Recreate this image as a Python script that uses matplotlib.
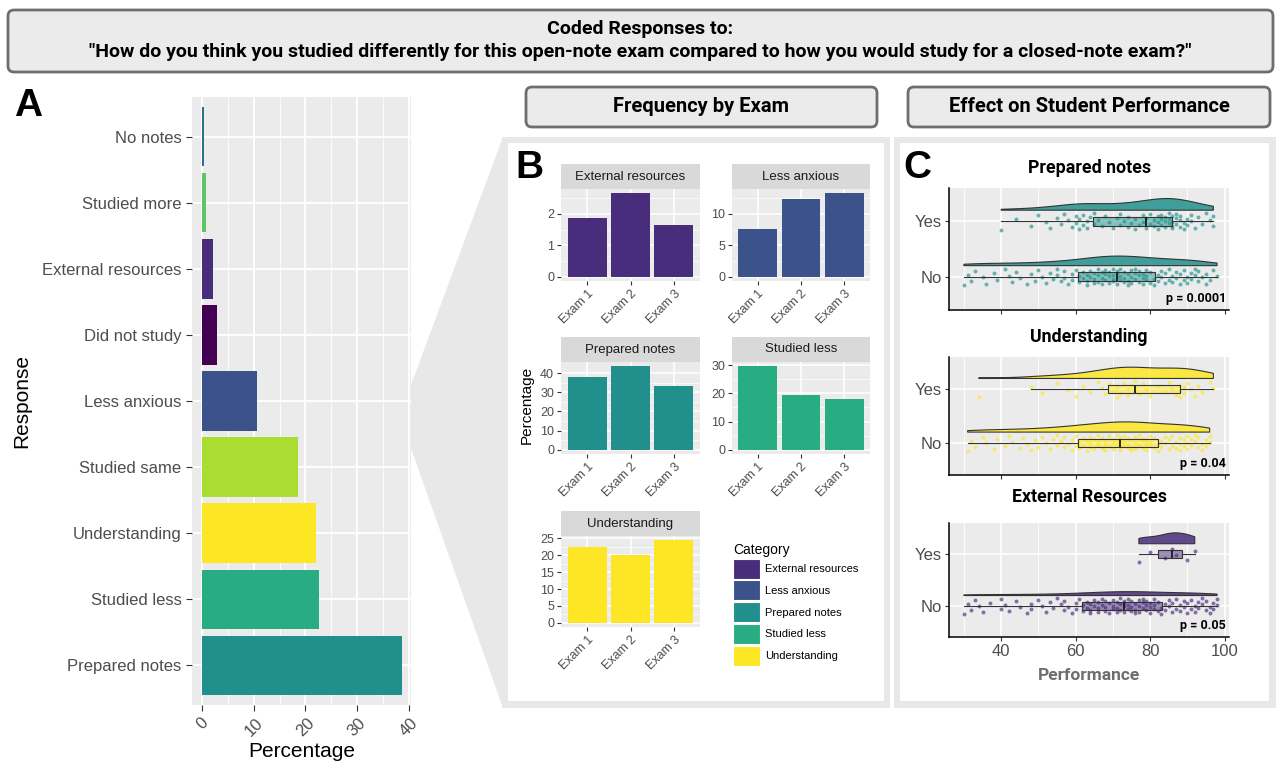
import matplotlib
matplotlib.use("Agg")
import matplotlib.pyplot as plt
import numpy as np
from matplotlib.patches import FancyBboxPatch, Rectangle, Polygon, Patch
from matplotlib.colors import to_rgba

plt.rcParams['font.family'] = ['Liberation Sans', 'DejaVu Sans']

# ---- data -----------------------------------------------------------------
responses = ["Prepared notes", "Studied less", "Understanding", "Studied same",
             "Less anxious", "Did not study", "External resources",
             "Studied more", "No notes"]
response_pct = [38.6, 22.7, 22.0, 18.5, 10.6, 2.9, 2.2, 0.8, 0.3]

exams = ["Exam 1", "Exam 2", "Exam 3"]
freq_external = [1.88, 2.66, 1.64]
freq_anxious = [7.55, 12.45, 13.3]
freq_prepared = [38.1, 43.6, 33.3]
freq_studied_less = [29.6, 19.4, 18.1]
freq_understanding = [22.4, 20.1, 24.5]

# exam performance (%) by response group, read approximately from the rainclouds
prep_yes = [40, 44, 48, 50, 52, 53, 55, 56, 57, 58, 59, 60, 60, 61, 61, 62, 62,
            63, 63, 64,
            65, 65, 66, 67, 68, 69, 70, 71, 72, 72, 73, 74, 74, 75, 76, 76, 77,
            78, 78, 79,
            79, 80, 80, 81, 81, 82, 82, 82, 83, 83, 83, 84, 84, 84, 85, 85, 85,
            86, 86, 86,
            86, 87, 87, 87, 88, 88, 88, 89, 89, 90, 90, 91, 91, 92, 93, 94, 95,
            96, 97, 97]
prep_no = [30, 31, 32, 33, 35, 36, 38, 39, 41, 42, 43, 44, 45, 47, 48, 49, 50,
           51, 52, 53, 54, 55, 55, 56, 57, 57, 58, 59, 59, 60,
           61, 61, 62, 62, 63, 63, 63, 64, 64, 65, 65, 65, 66, 66, 66, 67, 67,
           67, 68, 68, 68, 69, 69, 69, 70, 70, 70, 70, 71, 71,
           71, 71, 72, 72, 72, 73, 73, 73, 74, 74, 74, 75, 75, 75, 76, 76, 76,
           77, 77, 77, 78, 78, 78, 79, 79, 79, 80, 80, 81, 81,
           82, 82, 83, 83, 84, 84, 85, 85, 86, 86, 87, 87, 88, 88, 89, 89, 90,
           90, 91, 91, 92, 92, 93, 93, 94, 95, 95, 96, 97, 98]
und_yes = [34, 48, 51, 55, 58, 60, 62, 64, 66, 67, 68,
           69, 70, 71, 71, 72, 73, 74, 74, 75, 76, 76,
           76, 77, 78, 79, 80, 82, 84, 85, 86, 87, 88,
           88, 88, 89, 89, 90, 91, 92, 93, 94, 96, 97]
und_no = [31, 32, 33, 35, 36, 38, 39, 41, 42, 43, 45, 46, 47, 48, 49, 50, 51,
          52, 53, 54, 55, 55, 56, 57, 57, 58, 59, 59, 60, 60,
          61, 61, 62, 62, 63, 63, 64, 64, 64, 65, 65, 66, 66, 66, 67, 67, 68,
          68, 68, 69, 69, 70, 70, 70, 71, 71, 71, 72, 72, 72,
          72, 72, 73, 73, 73, 74, 74, 74, 75, 75, 75, 76, 76, 76, 77, 77, 77,
          78, 78, 78, 79, 79, 79, 80, 80, 80, 81, 81, 82, 82,
          83, 83, 84, 84, 85, 85, 86, 86, 87, 87, 88, 88, 88, 89, 89, 90, 90,
          90, 91, 91, 92, 92, 93, 93, 94, 94, 95, 95, 96, 96]
ext_yes = [77, 80, 84, 86, 87, 90, 92]
ext_no = [30, 31, 32, 33, 34, 35, 37, 40, 40, 41, 42, 44, 45, 47, 48, 48, 50,
          51, 52, 53, 54, 55, 56, 57, 57, 58, 59, 60, 60, 61,
          62, 62, 63, 63, 64, 64, 64, 65, 65, 66, 66, 66, 67, 67, 68, 68, 68,
          69, 69, 70, 70, 70, 71, 71, 71, 72, 72, 72, 73, 73,
          73, 73, 74, 74, 74, 75, 75, 75, 76, 76, 76, 77, 77, 77, 78, 78, 78,
          79, 79, 79, 80, 80, 80, 81, 81, 81, 82, 82, 83, 83,
          84, 84, 85, 85, 86, 86, 87, 87, 88, 88, 89, 89, 90, 90, 91, 91, 92,
          92, 93, 93, 94, 94, 95, 95, 96, 96, 97, 97, 98, 98]
p_values = ["p = 0.0001", "p = 0.04", "p = 0.05"]

# viridis colours, one per response (alphabetical as in ggplot)
resp_colors = {
    "Did not study": "#440154", "External resources": "#472D7B",
    "Less anxious": "#3B528B", "No notes": "#2C728E",
    "Prepared notes": "#21908C", "Studied less": "#27AD81",
    "Studied more": "#5DC863", "Studied same": "#AADC32",
    "Understanding": "#FDE725",
}

W, H = 1280, 763
fig = plt.figure(figsize=(12.8, 7.63), dpi=100)


def px_axes(x0, y0, x1, y1):
    return fig.add_axes([x0 / W, 1 - y1 / H, (x1 - x0) / W, (y1 - y0) / H])


# ---- background boxes ------------------------------------------------------
bg = px_axes(0, 0, W, H)
bg.set_xlim(0, W)
bg.set_ylim(H, 0)
bg.axis('off')

frame_grey = '#e8e8e8'
bg.add_patch(Polygon([(408, 393), (503, 137), (503, 708), (408, 440)],
                     closed=True, fc=frame_grey, ec='none'))
bg.add_patch(Rectangle((502, 137), 388, 571, fc=frame_grey, ec='none'))
bg.add_patch(Rectangle((508, 143), 376, 558, fc='white', ec='none'))
bg.add_patch(Rectangle((894, 137), 382, 571, fc=frame_grey, ec='none'))
bg.add_patch(Rectangle((900, 143), 369, 558, fc='white', ec='none'))

for (x, y, w, h) in [(8, 10, 1265, 62), (526, 87, 351, 40), (908, 87, 362, 40)]:
    bg.add_patch(FancyBboxPatch((x, y), w, h, boxstyle='round,pad=0,rounding_size=6',
                                fc='#ebebeb', ec='#6e6e6e', lw=2))

hdr = dict(ha='center', va='center', fontweight='bold', family='Roboto',
           color='black')
bg.text(640, 29, "Coded Responses to:", fontsize=14, **hdr)
bg.text(640, 52, "\"How do you think you studied differently for this open-note exam "
        "compared to how you would study for a closed-note exam?\"", fontsize=14, **hdr)
bg.text(701, 107, "Frequency by Exam", fontsize=14.5, **hdr)
bg.text(1089, 107, "Effect on Student Performance", fontsize=14.5, **hdr)

letter = dict(fontsize=28, fontweight='bold', va='center', ha='left', color='black')
bg.text(14, 106, "A", **letter)
bg.text(515, 168, "B", **letter)
bg.text(903, 168, "C", **letter)

# ---- panel A ---------------------------------------------------------------
axA = px_axes(192, 97, 411, 705)
yA = np.arange(len(responses))
axA.barh(yA, response_pct, height=0.9, color=[resp_colors[r] for r in responses],
         zorder=2)
axA.set_xlim(-1.93, 40.43)
axA.set_ylim(-0.6, len(responses) - 0.4)
axA.set_facecolor('#ebebeb')
axA.set_xticks([0, 10, 20, 30, 40])
axA.set_xticks([5, 15, 25, 35], minor=True)
axA.set_yticks(yA, responses)
axA.grid(which='major', color='white', lw=1.3)
axA.grid(which='minor', axis='x', color='white', lw=0.6)
axA.set_axisbelow(True)
for s in axA.spines.values():
    s.set_visible(False)
axA.tick_params(which='major', color='#333333', length=4, labelcolor='#4d4d4d',
                labelsize=12)
axA.tick_params(which='minor', length=0)
for lab in axA.get_xticklabels():
    lab.set_rotation(45)
    lab.set_ha('center')
axA.set_xlabel("Percentage", fontsize=15, labelpad=2)
axA.set_ylabel("Response", fontsize=15, labelpad=8)

# ---- panel B ---------------------------------------------------------------
facets = [
    ("External resources", freq_external, (561, 189, 700, 281), [0, 1, 2], [0.5, 1.5, 2.5]),
    ("Less anxious", freq_anxious, (732, 189, 870, 281), [0, 5, 10], [2.5, 7.5, 12.5]),
    ("Prepared notes", freq_prepared, (561, 362, 700, 454), [0, 10, 20, 30, 40], [5, 15, 25, 35]),
    ("Studied less", freq_studied_less, (732, 362, 870, 454), [0, 10, 20, 30], [5, 15, 25]),
    ("Understanding", freq_understanding, (561, 536, 700, 627), [0, 5, 10, 15, 20, 25],
     [2.5, 7.5, 12.5, 17.5, 22.5]),
]
strip_px = 25
for name, vals, (x0, y0, x1, y1), yt, ymin in facets:
    ax = px_axes(x0, y0, x1, y1)
    ax.bar(range(len(exams)), vals, width=0.9, color=resp_colors[name], zorder=2)
    top = max(vals)
    ax.set_xlim(-0.6, len(exams) - 0.4)
    ax.set_ylim(-0.05 * top, 1.05 * top)
    ax.set_facecolor('#ebebeb')
    ax.set_xticks(range(len(exams)), exams)
    ax.set_yticks(yt)
    ax.set_yticks(ymin, minor=True)
    ax.grid(which='major', color='white', lw=1.1)
    ax.grid(which='minor', axis='y', color='white', lw=0.5)
    ax.set_axisbelow(True)
    for s in ax.spines.values():
        s.set_visible(False)
    ax.tick_params(which='major', color='#333333', length=3, labelcolor='#4d4d4d',
                   labelsize=9, pad=2)
    ax.tick_params(which='minor', length=0)
    for lab in ax.get_xticklabels():
        lab.set_rotation(45)
        lab.set_ha('right')
        lab.set_va('top')
        lab.set_rotation_mode('anchor')
    hfrac = strip_px / (y1 - y0)
    ax.add_patch(Rectangle((0, 1), 1, hfrac, transform=ax.transAxes, clip_on=False,
                           fc='#d9d9d9', ec='none'))
    ax.text(0.5, 1 + hfrac / 2, name, transform=ax.transAxes, ha='center',
            va='center', fontsize=9.5, color='#1a1a1a')

bg.text(527, 405, "Percentage", rotation=90, ha='center', va='center', fontsize=11)

legend_names = ["External resources", "Less anxious", "Prepared notes",
                "Studied less", "Understanding"]
handles = [Patch(fc=resp_colors[n], ec='white', lw=0.8) for n in legend_names]
fig.legend(handles, legend_names, loc='upper left',
           bbox_to_anchor=(723 / W, 1 - 533 / H), frameon=False, title="Category",
           fontsize=8, title_fontsize=10, handlelength=2.4, handleheight=2.4,
           handletextpad=0.5, labelspacing=0.15, alignment='left')

# ---- panel C ---------------------------------------------------------------


def kde(vals, grid):
    v = np.asarray(vals, float)
    n = len(v)
    iqr = np.subtract(*np.percentile(v, [75, 25]))
    bw = 0.9 * min(v.std(ddof=1), iqr / 1.34) * n ** -0.2
    z = (grid[:, None] - v[None, :]) / bw
    return np.exp(-0.5 * z ** 2).sum(1) / (n * bw * np.sqrt(2 * np.pi))


def jitter(n, spread=0.15):
    k = np.arange(n)
    return ((k * 0.6180339887) % 1.0 - 0.5) * 2 * spread


rainclouds = [
    ("Prepared notes", prep_yes, prep_no, "#21908C", (949, 188, 1229, 310), 168),
    ("Understanding", und_yes, und_no, "#FDE725", (949, 357, 1229, 475), 337),
    ("External Resources", ext_yes, ext_no, "#472D7B", (949, 523, 1229, 637), 497),
]
for i, (title, yes, no, col, (x0, y0, x1, y1), ty) in enumerate(rainclouds):
    ax = px_axes(x0, y0, x1, y1)
    ax.set_facecolor('#ebebeb')
    groups = [(1, no), (2, yes)]
    grids = [np.linspace(min(g), max(g), 200) for _, g in groups]
    dens = [kde(g, gr) for (_, g), gr in zip(groups, grids)]
    scale = 0.21 / max(d.max() for d in dens)
    for (pos, g), gr, d in zip(groups, grids, dens):
        base = pos + 0.2
        xs = np.concatenate([gr, gr[::-1]])
        ys = np.concatenate([base + d * scale, np.full(len(gr), base)])
        ax.fill(xs, ys, fc=to_rgba(col, 0.85), ec='#333333', lw=0.8, zorder=2)
        ax.scatter(g, pos + jitter(len(g)), s=8, color=col, alpha=0.65, lw=0,
                   zorder=3)
    bp = ax.boxplot([no, yes], positions=[1, 2], orientation='horizontal',
                    widths=0.16, showfliers=False, showcaps=False,
                    patch_artist=True, whis=1.5, zorder=4)
    for b in bp['boxes']:
        b.set_facecolor(to_rgba(col, 0.5))
        b.set_edgecolor('#333333')
        b.set_linewidth(0.8)
    for w in bp['whiskers']:
        w.set_color('#333333')
        w.set_linewidth(0.8)
    for m in bp['medians']:
        m.set_color('#1a1a1a')
        m.set_linewidth(1.3)
    ax.set_xlim(26, 101.2)
    ax.set_ylim(0.4, 2.6)
    ax.set_yticks([1, 2], ["No", "Yes"])
    ax.set_xticks([40, 60, 80, 100])
    ax.set_xticks([30, 50, 70, 90], minor=True)
    ax.grid(which='major', color='white', lw=1.2)
    ax.grid(which='minor', axis='x', color='white', lw=0.6)
    ax.set_axisbelow(True)
    for s in ['top', 'right']:
        ax.spines[s].set_visible(False)
    for s in ['left', 'bottom']:
        ax.spines[s].set_color('black')
        ax.spines[s].set_linewidth(1.1)
    ax.tick_params(which='major', color='#333333', length=3, labelcolor='#4d4d4d',
                   labelsize=12, pad=2)
    ax.tick_params(which='minor', length=0)
    if i < 2:
        ax.tick_params(axis='x', labelbottom=False)
    ax.text(0.99, 0.04, p_values[i], transform=ax.transAxes, ha='right',
            va='bottom', fontsize=9, fontweight='bold', family='Roboto')
    bg.text((x0 + x1) / 2, ty, title, ha='center', va='center', fontsize=12.8,
            fontweight='bold', family='Roboto')

bg.text(1089, 675, "Performance", ha='center', va='center', fontsize=12.5,
        fontweight='bold', family='Roboto', color='#6e6e6e')

fig.savefig("out.png", dpi=100)
